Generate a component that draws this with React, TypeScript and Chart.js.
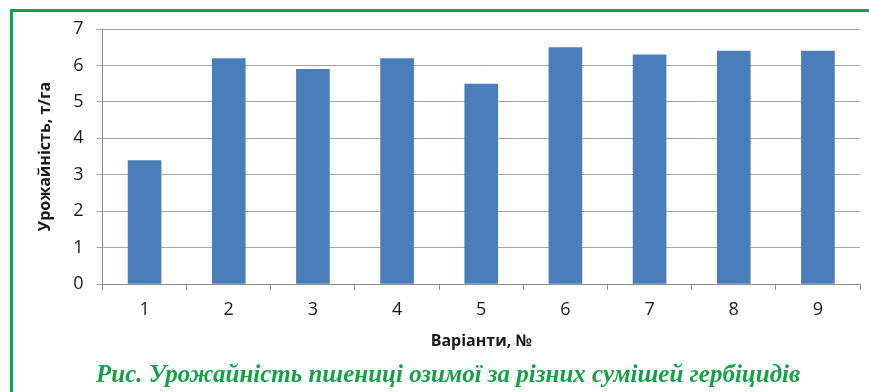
import React, { useEffect, useRef } from "react";
import { Chart, registerables } from "chart.js";

Chart.register(...registerables);

const categories = ["1", "2", "3", "4", "5", "6", "7", "8", "9"];
const yieldValues = [3.4, 6.2, 5.9, 6.2, 5.5, 6.5, 6.3, 6.4, 6.4];
const yTitle = "Урожайність, т/га";
const xTitle = "Варіанти, №";
const caption = "Рис. Урожайність пшениці озимої за різних сумішей гербіцидів";

export default function App() {
  const ref = useRef<HTMLCanvasElement | null>(null);

  useEffect(() => {
    if (!ref.current) return;
    const chart = new Chart(ref.current, {
      type: "bar",
      data: {
        labels: categories,
        datasets: [
          {
            data: yieldValues,
            backgroundColor: "#4a7ebb",
            borderWidth: 0,
            barPercentage: 0.4,
            categoryPercentage: 1,
          },
        ],
      },
      options: {
        animation: false,
        responsive: false,
        maintainAspectRatio: false,
        layout: { padding: { left: 16, right: 9, top: 29, bottom: 27 } },
        plugins: { legend: { display: false }, tooltip: { enabled: false } },
        scales: {
          x: {
            grid: {
              display: true,
              drawOnChartArea: false,
              drawTicks: true,
              tickLength: 6,
              color: "#8c8c8c",
              offset: true,
            },
            border: { display: true, color: "#8c8c8c", width: 1 },
            ticks: {
              color: "#1a1a1a",
              font: { family: "'Open Sans', sans-serif", size: 18 },
              padding: 9,
            },
            title: {
              display: true,
              text: xTitle,
              color: "#1a1a1a",
              font: { family: "'Open Sans', sans-serif", size: 16, weight: "bold" },
              padding: { top: 2, bottom: 14 },
            },
          },
          y: {
            min: 0,
            max: 7,
            ticks: {
              stepSize: 1,
              color: "#1a1a1a",
              font: { family: "'Open Sans', sans-serif", size: 18 },
              padding: 13,
            },
            grid: {
              color: "#a6a6a6",
              tickLength: 6,
              drawTicks: true,
            },
            border: { display: true, color: "#8c8c8c", width: 1 },
            title: {
              display: true,
              text: yTitle,
              color: "#1a1a1a",
              font: { family: "'Open Sans', sans-serif", size: 16, weight: "bold" },
              padding: { top: 20, bottom: 5 },
            },
          },
        },
      },
    });
    return () => chart.destroy();
  }, []);

  return (
    <div
      style={{
        position: "fixed",
        left: 0,
        top: 0,
        width: 869,
        height: 392,
        overflow: "hidden",
        background: "#ffffff",
      }}
    >
      <div
        style={{
          position: "absolute",
          left: 10,
          top: 9,
          width: 900,
          height: 500,
          border: "3px solid #00a651",
          boxSizing: "border-box",
        }}
      />
      <canvas
        ref={ref}
        width={869}
        height={392}
        style={{ position: "absolute", left: 0, top: 0, width: 869, height: 392 }}
      />
      <div
        style={{
          position: "absolute",
          left: 96,
          top: 359,
          whiteSpace: "nowrap",
          fontFamily: "'Liberation Serif', serif",
          fontStyle: "italic",
          fontWeight: "bold",
          fontSize: 25,
          lineHeight: "30px",
          color: "#17a04a",
        }}
      >
        {caption}
      </div>
    </div>
  );
}
